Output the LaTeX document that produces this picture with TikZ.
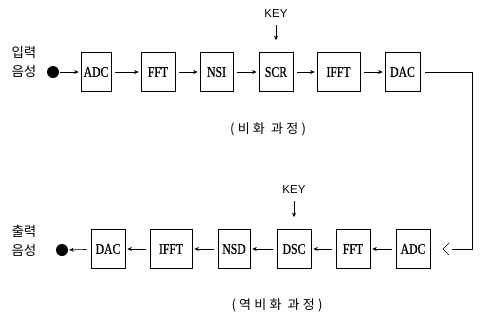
\documentclass[tikz,border=0pt]{standalone}
\usepackage{fontspec}
\setmainfont{Liberation Serif}
\newfontfamily\krfont{Noto Sans CJK KR}
\newfontfamily\krcap[LetterSpace=25]{Noto Sans CJK KR}
\newfontfamily\blkfont[FakeStretch=0.78,FakeBold=0.6]{Liberation Serif}
\newfontfamily\keyfont{Liberation Sans}
\usetikzlibrary{arrows.meta}
\begin{document}
\begin{tikzpicture}[x=1pt,y=-1pt,
  blk/.style={draw,line width=0.7pt,minimum height=39pt,inner sep=0pt,
    font=\blkfont\fontsize{15}{15}\selectfont},
  flow/.style={line width=0.6pt,-{Stealth[length=4.5pt,width=4pt]},
    shorten <=4pt,shorten >=2pt},
  link/.style={line width=0.6pt},
  dot/.style={circle,fill=black,inner sep=0pt,minimum size=12pt},
  lbl/.style={font=\krfont\fontsize{13.5}{19}\selectfont,align=left,anchor=west},
  keylbl/.style={font=\keyfont\fontsize{11.5}{11.5}\selectfont},
  keyflow/.style={flow,shorten <=4pt,shorten >=12pt},
  captxt/.style={font=\krcap\fontsize{13}{13}\selectfont}]
\useasboundingbox (0,0) rectangle (485,322);

% encryption path
\node[lbl] (inlbl) at (8,62) {입력\\음성};
\node[dot] (in) at (53,72) {};
\node[blk,minimum width=30pt] (adc1) at (96,72) {ADC};
\node[blk,minimum width=34pt] (fft1) at (158,72) {FFT};
\node[blk,minimum width=33pt] (nsi) at (216.5,72) {NSI};
\node[blk,minimum width=34pt] (scr) at (276,72) {SCR};
\node[blk,minimum width=43pt] (ifft1) at (338.5,72) {IFFT};
\node[blk,minimum width=35pt] (dac1) at (402.5,72) {DAC};
\node[keylbl] (key1) at (276,14) {KEY};
\node[captxt] (cap1) at (268,129) {(비화 과정)};

\draw[flow,shorten <=1pt] (in) -- (adc1);
\draw[flow] (adc1) -- (fft1);
\draw[flow] (fft1) -- (nsi);
\draw[flow] (nsi) -- (scr);
\draw[flow] (scr) -- (ifft1);
\draw[flow] (ifft1) -- (dac1);
\draw[keyflow] (key1) -- (scr);

% return line to the decryption side
\coordinate (ret) at (452,249);
\draw[link,shorten <=5pt] (dac1.east) -| (472,249) -- (ret);
\draw[link] (ret) ++(-3,-6) -- ++(-6,6) -- ++(6,6);

% decryption path
\node[lbl] (outlbl) at (8,241) {출력\\음성};
\node[dot] (out) at (62,250) {};
\node[blk,minimum width=34pt] (dac2) at (108,249) {DAC};
\node[blk,minimum width=42pt] (ifft2) at (171,249) {IFFT};
\node[blk,minimum width=32pt] (nsd) at (234,249) {NSD};
\node[blk,minimum width=34pt] (dsc) at (294,249) {DSC};
\node[blk,minimum width=34pt] (fft2) at (353,249) {FFT};
\node[blk,minimum width=34pt] (adc2) at (413,249) {ADC};
\node[keylbl] (key2) at (294,190) {KEY};
\node[captxt] (cap2) at (277,305) {(역비화 과정)};

\draw[flow] (adc2) -- (fft2);
\draw[flow] (fft2) -- (dsc);
\draw[flow] (dsc) -- (nsd);
\draw[flow] (nsd) -- (ifft2);
\draw[flow] (ifft2) -- (dac2);
\draw[flow,shorten >=1pt] (dac2) -- (out);
\draw[keyflow] (key2) -- (dsc);
\end{tikzpicture}
\end{document}
